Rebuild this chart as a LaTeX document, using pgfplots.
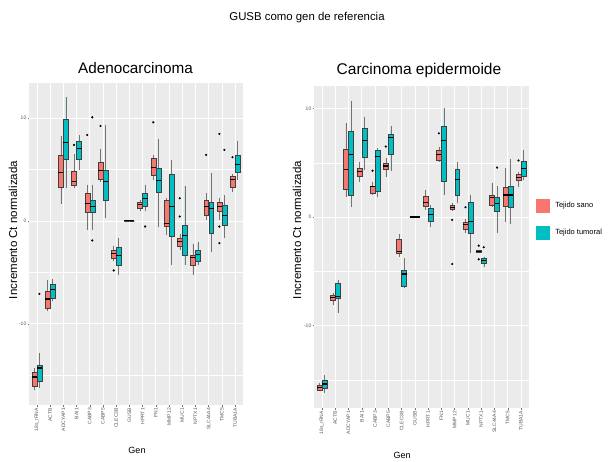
\documentclass[border=0pt]{standalone}
\usepackage{fontspec}
\setmainfont{Liberation Sans}
\usepackage{pgfplots}
\pgfplotsset{compat=1.18}
\usepgfplotslibrary{statistics}
\definecolor{ggred}{HTML}{F8766D}
\definecolor{ggteal}{HTML}{00BFC4}
\definecolor{ggbg}{HTML}{EBEBEB}
% position, colour, lower whisker, lower quartile, median, upper quartile, upper whisker, outliers
\newcommand{\bx}[8]{\addplot[forget plot, fill=#2, draw=black!75, line width=0.35pt,
  mark=*, mark size=0.9pt, mark options={fill=black,draw=black},
  boxplot prepared={draw direction=y, draw position=#1, lower whisker=#3, lower quartile=#4, median=#5,
  upper quartile=#6, upper whisker=#7, box extend=0.37, whisker extend=0}] coordinates {#8};}
\pgfplotsset{ggpanel/.style={
  scale only axis, anchor=south west,
  xmin=0.4, xmax=16.6,
  xtick={1,...,16},
  xticklabels={18s\_rRNA,ACTB,ADCYAP1,BAI1,CABP3,CABP5,CLEC3B,GUSB,HPRT1,FN1,MMP12,MUC1,NPTX1,SLC44A4,TMC5,TUBA1A},
  ytick={-10,0,10}, minor ytick={-15,-5,5},
  axis background/.style={fill=ggbg},
  axis line style={draw=none},
  grid=both,
  major grid style={white, line width=0.7pt},
  minor grid style={white, line width=0.35pt},
  tick pos=left, tick align=outside, major tick length=1.5pt, minor tick length=0pt,
  tick style={black!55, line width=0.4pt},
  ticklabel style={font=\fontsize{5}{5}\selectfont, text=black!65},
  x tick label style={rotate=90, anchor=east, inner sep=1.5pt},
  y tick label style={inner sep=1pt},
  /pgf/number format/assume math mode=true,
  boxplot/every median/.style={draw=black, line width=1.1pt},
  boxplot/every whisker/.style={draw=black!55, line width=0.4pt},
}}
\begin{document}
\begin{tikzpicture}[x=1pt,y=1pt]
\useasboundingbox (0,0) rectangle (609,461);
\node[font=\fontsize{11.4}{13}\selectfont] at (307,443) {GUSB como gen de referencia};
\node[font=\fontsize{15.3}{17}\selectfont] at (135.5,393) {Adenocarcinoma};
\node[font=\fontsize{15.5}{17}\selectfont] at (419,391) {Carcinoma epidermoide};
\node[font=\fontsize{11.5}{12}\selectfont, rotate=90] at (13,231) {Incremento Ct normalizada};
\node[font=\fontsize{11.5}{12}\selectfont, rotate=90] at (297,231) {Incremento Ct normalizada};
\node[font=\fontsize{9}{10}\selectfont] at (137,11) {Gen};
\node[font=\fontsize{9}{10}\selectfont] at (402,6) {Gen};

% ---------------- Adenocarcinoma ----------------
\begin{axis}[ggpanel, at={(29pt,56pt)}, width=214pt, height=322pt, ymin=-17.9, ymax=13.4]
\bx{0.81}{ggred}{-16.47}{-16.09}{-15.18}{-14.73}{-14.3}{}
\bx{1.19}{ggteal}{-16.25}{-15.6}{-14.3}{-14.0}{-12.8}{(0,-7.1)}
\bx{1.81}{ggred}{-8.8}{-8.48}{-7.6}{-6.8}{-5.73}{}
\bx{2.19}{ggteal}{-7.83}{-7.5}{-6.7}{-6.2}{-5.66}{}
\bx{2.81}{ggred}{1.65}{3.27}{4.69}{6.41}{8.25}{}
\bx{3.19}{ggteal}{3.17}{5.99}{7.6}{9.87}{12.0}{}
\bx{3.81}{ggred}{3.17}{3.5}{3.82}{4.79}{6.5}{(0,7.38)}
\bx{4.19}{ggteal}{4.95}{5.99}{7.0}{7.7}{8.35}{}
\bx{4.81}{ggred}{-0.87}{0.81}{1.65}{2.69}{3.5}{(0,8.35)}
\bx{5.19}{ggteal}{-0.87}{0.81}{1.39}{1.97}{3.5}{(0,10.06) (0,-1.9)}
\bx{5.81}{ggred}{3.82}{4.05}{4.89}{5.66}{6.96}{(0,9.22)}
\bx{6.19}{ggteal}{0.26}{1.97}{3.82}{4.95}{9.32}{}
\bx{6.81}{ggred}{-3.95}{-3.62}{-3.2}{-2.82}{-2.49}{(0,-4.82)}
\bx{7.19}{ggteal}{-5.24}{-4.27}{-3.4}{-2.56}{-1.68}{}
\bx{7.81}{ggred}{0}{0}{0}{0}{0}{}
\bx{8.19}{ggteal}{0}{0}{0}{0}{0}{}
\bx{8.81}{ggred}{0.91}{1.23}{1.55}{1.78}{2.04}{}
\bx{9.19}{ggteal}{0.91}{1.39}{2.2}{2.69}{3.5}{(0,-0.55)}
\bx{9.81}{ggred}{3.98}{4.47}{5.21}{6.09}{6.41}{(0,9.58)}
\bx{10.19}{ggteal}{-0.55}{2.75}{3.92}{5.11}{7.93}{}
\bx{10.81}{ggred}{-1.36}{-0.49}{-0.29}{1.97}{2.2}{}
\bx{11.19}{ggteal}{-4.27}{-1.46}{1.39}{4.56}{5.92}{}
\bx{11.81}{ggred}{-2.82}{-2.43}{-2.0}{-1.68}{-1.26}{(0,2.2) (0,0.42)}
\bx{12.19}{ggteal}{-4.27}{-3.3}{-1.46}{-0.39}{3.4}{}
\bx{12.81}{ggred}{-5.24}{-4.27}{-3.53}{-3.3}{-2.23}{}
\bx{13.19}{ggteal}{-4.27}{-3.95}{-3.3}{-2.82}{-2.1}{}
\bx{13.81}{ggred}{0.1}{0.58}{1.39}{1.97}{2.69}{(0,6.41)}
\bx{14.19}{ggteal}{-3.07}{-1.2}{1.23}{1.78}{4.69}{}
\bx{14.81}{ggred}{0.1}{0.91}{1.39}{1.78}{2.2}{(0,8.45) (0,-0.55) (0,-2.17)}
\bx{15.19}{ggteal}{-1.68}{-0.39}{0.49}{1.55}{2.52}{(0,6.9)}
\bx{15.81}{ggred}{2.85}{3.27}{3.98}{4.3}{4.56}{(0,6.18)}
\bx{16.19}{ggteal}{3.98}{4.69}{5.44}{6.41}{7.8}{}
\end{axis}

% ---------------- Carcinoma epidermoide ----------------
\begin{axis}[ggpanel, at={(314pt,53pt)}, width=215pt, height=322pt, ymin=-17.6, ymax=12.07,
  legend style={at={(1.033,0.65)}, anchor=north west, draw=none, fill=none,
    inner sep=0pt, row sep=13pt, font=\fontsize{7.5}{9}\selectfont,
    /tikz/every odd column/.style={column sep=3pt}},
  legend cell align=left,
  legend image code/.code={\fill[#1] (0pt,-7pt) rectangle (14pt,7pt);}]
\bx{0.81}{ggred}{-16.0}{-15.94}{-15.73}{-15.48}{-15.33}{}
\bx{1.19}{ggteal}{-16.19}{-15.79}{-15.39}{-15.08}{-14.56}{}
\bx{1.81}{ggred}{-8.1}{-7.65}{-7.4}{-7.19}{-7.03}{}
\bx{2.19}{ggteal}{-8.81}{-7.49}{-7.34}{-6.11}{-5.8}{}
\bx{2.81}{ggred}{1.88}{2.55}{4.34}{6.24}{8.64}{}
\bx{3.19}{ggteal}{0.96}{2.03}{5.72}{7.87}{10.73}{}
\bx{3.81}{ggred}{3.26}{3.72}{4.18}{4.49}{5.1}{}
\bx{4.19}{ggteal}{4.34}{5.5}{7.04}{8.18}{9.25}{}
\bx{4.81}{ggred}{2.03}{2.18}{2.8}{2.86}{3.26}{(0,4.27)}
\bx{5.19}{ggteal}{1.88}{2.34}{5.56}{6.18}{6.33}{}
\bx{5.81}{ggred}{3.72}{4.4}{4.7}{4.95}{5.4}{(0,6.49)}
\bx{6.19}{ggteal}{4.27}{5.81}{7.35}{7.65}{8.39}{}
\bx{6.81}{ggred}{-3.65}{-3.35}{-3.19}{-2.05}{-1.56}{}
\bx{7.19}{ggteal}{-6.57}{-6.36}{-5.25}{-4.94}{-3.8}{}
\bx{7.81}{ggred}{0}{0}{0}{0}{0}{}
\bx{8.19}{ggteal}{0}{0}{0}{0}{0}{}
\bx{8.81}{ggred}{0.65}{0.96}{1.32}{1.88}{2.49}{}
\bx{9.19}{ggteal}{-0.89}{-0.43}{0.19}{0.8}{1.11}{}
\bx{9.81}{ggred}{5.1}{5.26}{5.72}{6.12}{6.49}{(0,7.71)}
\bx{10.19}{ggteal}{2.03}{3.26}{7.04}{8.33}{10.02}{}
\bx{10.81}{ggred}{0.59}{0.71}{0.9}{1.11}{1.26}{(0,-0.27) (0,-4.33)}
\bx{11.19}{ggteal}{1.26}{2.03}{3.48}{4.4}{5.1}{}
\bx{11.81}{ggred}{-1.5}{-1.13}{-0.73}{-0.52}{-0.21}{(0,0.9)}
\bx{12.19}{ggteal}{-3.28}{-1.5}{-0.43}{1.32}{2.03}{}
\bx{12.81}{ggred}{-3.28}{-3.22}{-3.19}{-3.1}{-3.05}{(0,-2.64) (0,-3.9)}
\bx{13.19}{ggteal}{-4.64}{-4.27}{-4.05}{-3.84}{-3.65}{(0,-2.79)}
\bx{13.81}{ggred}{0.96}{1.11}{1.82}{2.03}{3.17}{}
\bx{14.19}{ggteal}{-1.5}{0.5}{1.26}{1.82}{2.86}{(0,4.55)}
\bx{14.81}{ggred}{-0.43}{0.96}{2.03}{2.74}{4.49}{}
\bx{15.19}{ggteal}{-0.64}{0.9}{2.03}{2.8}{5.32}{}
\bx{15.81}{ggred}{2.8}{3.35}{3.66}{3.94}{4.18}{(0,5.2)}
\bx{16.19}{ggteal}{3.41}{3.72}{4.49}{5.1}{6.18}{}
\addplot[fill=ggred, draw=none] coordinates {(0,0)};
\addlegendentry{Tejido sano}
\addplot[fill=ggteal, draw=none] coordinates {(0,0)};
\addlegendentry{Tejido tumoral}
\end{axis}
\end{tikzpicture}
\end{document}
